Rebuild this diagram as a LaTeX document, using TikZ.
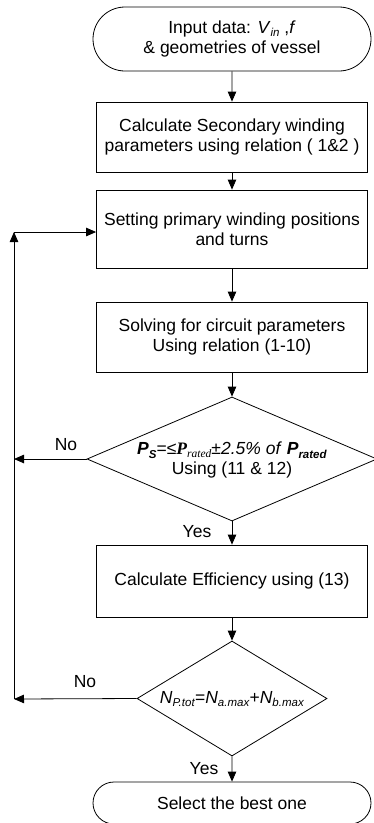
\documentclass[tikz,border=0pt]{standalone}
\usepackage{fontspec}
\setmainfont{Liberation Sans}
\newfontfamily\serifP{Liberation Serif}
\usetikzlibrary{arrows.meta,shapes.geometric,shapes.misc}
\newcommand\lsub[1]{\raisebox{-0.4ex}{\fontsize{11.5}{11.5}\selectfont #1}}
\begin{document}
\begin{tikzpicture}[x=1pt,y=-1pt,
  every node/.style={font=\fontsize{17.5}{20.5}\selectfont},
  proc/.style={draw, rectangle, minimum width=271pt, minimum height=70pt, inner sep=0pt, align=center},
  term/.style={draw, rounded rectangle, minimum width=278pt, minimum height=64pt, inner sep=0pt, align=center},
  dec/.style={draw, diamond, inner sep=0pt},
  lbl/.style={inner sep=0pt},
  arr/.style={-{Triangle[length=10pt,width=8.5pt]}},
  line width=0.8pt]
\useasboundingbox (0,0) rectangle (374,823);

\node[term] (start) at (232,39) {Input data: \textit{V}\lsub{\textit{in}} ,\textit{f}\\\& geometries of vessel};
\node[proc, minimum height=70pt] (calc) at (232,137) {Calculate Secondary winding\\parameters using relation ( 1\&2 )};
\node[proc, minimum height=78pt] (set) at (232,229) {Setting primary winding positions\\and turns};
\node[proc] (solve) at (232,337) {Solving for circuit parameters\\Using relation (1-10)};
\node[dec, minimum width=290pt, minimum height=124pt] (d1) at (232,459) {};
\node[align=center, inner sep=0pt] (d1t) at (232,460) {\textbf{\textit{P}}\lsub{\textbf{\textit{S}}}=≤{\serifP\textbf{\textit{P}}\lsub{\textit{rated}}}\textit{±2.5\% of }\textbf{\textit{P}}\lsub{\textbf{\textit{rated}}}\\[-1pt]Using (11 \& 12)};
\node[proc, minimum height=72pt] (eff) at (232,581) {Calculate Efficiency using (13)};
\node[dec, minimum width=190pt, minimum height=115pt] (d2) at (232,698.5) {};
\node[inner sep=0pt] (d2t) at (232,699) {\textit{N}\lsub{\textit{P.tot}}=\textit{N}\lsub{\textit{a.max}}+\textit{N}\lsub{\textit{b.max}}};
\node[term, minimum height=42pt] (end) at (232,803) {Select the best one};

\node[lbl] (no1) at (66,445) {No};
\node[lbl] (yes1) at (197,532) {Yes};
\node[lbl] (no2) at (85,682) {No};
\node[lbl] (yes2) at (204,769) {Yes};

\coordinate (l1) at (14,459);
\coordinate (l2) at (14,699);
\coordinate (ltop) at (14,232);

\draw[arr] (start) -- (calc);
\draw[arr] (calc) -- (set);
\draw[arr] (set) -- (solve);
\draw[arr] (solve) -- (d1);
\draw[arr] (d1) -- (eff);
\draw[arr] (eff) -- (d2);
\draw[arr] (d2) -- (end);
\draw[arr] (d1.west) -- (l1);
\draw[arr] (d2.west) -- (l2);
\draw[arr] (l2) -- (ltop);
\draw[arr] (ltop) -- (ltop -| set.west);
\end{tikzpicture}
\end{document}
